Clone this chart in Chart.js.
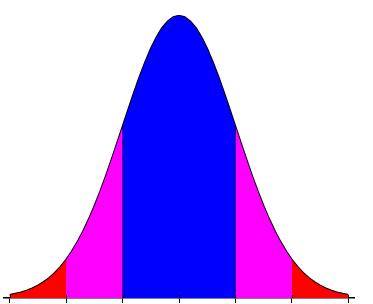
<!DOCTYPE html>
<html>
<head>
<meta charset="utf-8">
<script src="https://cdn.jsdelivr.net/npm/chart.js@4/dist/chart.umd.min.js"></script>
<style>
  html, body { margin: 0; padding: 0; background: #fff; }
  canvas { display: block; }
</style>
</head>
<body>
<canvas id="myChart" width="373" height="304"></canvas>
<script>
// posiciones en desviaciones estandar (eje x)
const positions = [
  -3.0, -2.9, -2.8, -2.7, -2.6, -2.5, -2.4, -2.3, -2.2, -2.1,
  -2.0, -1.9, -1.8, -1.7, -1.6, -1.5, -1.4, -1.3, -1.2, -1.1,
  -1.0, -0.9, -0.8, -0.7, -0.6, -0.5, -0.4, -0.3, -0.2, -0.1,
  0.0, 0.1, 0.2, 0.3, 0.4, 0.5, 0.6, 0.7, 0.8, 0.9,
  1.0, 1.1, 1.2, 1.3, 1.4, 1.5, 1.6, 1.7, 1.8, 1.9,
  2.0, 2.1, 2.2, 2.3, 2.4, 2.5, 2.6, 2.7, 2.8, 2.9,
  3.0
];

// altura de la curva en cada posicion
const heights = [
  0.0044, 0.0060, 0.0079, 0.0104, 0.0136, 0.0175, 0.0224, 0.0283, 0.0355, 0.0440,
  0.0540, 0.0656, 0.0790, 0.0940, 0.1109, 0.1295, 0.1497, 0.1714, 0.1942, 0.2179,
  0.2420, 0.2661, 0.2897, 0.3123, 0.3332, 0.3521, 0.3683, 0.3814, 0.3910, 0.3970,
  0.3989, 0.3970, 0.3910, 0.3814, 0.3683, 0.3521, 0.3332, 0.3123, 0.2897, 0.2661,
  0.2420, 0.2179, 0.1942, 0.1714, 0.1497, 0.1295, 0.1109, 0.0940, 0.0790, 0.0656,
  0.0540, 0.0440, 0.0355, 0.0283, 0.0224, 0.0175, 0.0136, 0.0104, 0.0079, 0.0060,
  0.0044
];

// limites de cada zona y su color
const bandEdges = [-3.0, -2.0, -1.0, 1.0, 2.0, 3.0];
const bandColors = ['#ff0000', '#ff00ff', '#0000ff', '#ff00ff', '#ff0000'];

// marcas del eje x
const tickValues = [-3, -2, -1, 0, 1, 2, 3];

// lineas verticales
const dividers = [-2, -1, 1, 2];

const points = positions.map((x, i) => ({ x: x, y: heights[i] }));

const datasets = [];

bandColors.forEach((color, i) => {
  const lo = bandEdges[i] - 1e-6;
  const hi = bandEdges[i + 1] + 1e-6;
  datasets.push({
    data: points.filter(p => p.x >= lo && p.x <= hi),
    backgroundColor: color,
    borderWidth: 0,
    pointRadius: 0,
    fill: 'origin'
  });
});

dividers.forEach(d => {
  const p = points.find(pt => Math.abs(pt.x - d) < 1e-6);
  datasets.push({
    data: [{ x: d, y: 0 }, { x: d, y: p.y }],
    borderColor: '#000',
    borderWidth: 1,
    pointRadius: 0,
    fill: false
  });
});

datasets.push({
  data: points,
  borderColor: '#000',
  borderWidth: 2,
  pointRadius: 0,
  fill: false
});

// pequeñas marcas por encima del eje
const tickMarks = {
  id: 'tickMarks',
  afterDraw(chart) {
    const ctx = chart.ctx;
    const xs = chart.scales.x;
    const bottom = chart.chartArea.bottom;
    ctx.save();
    ctx.strokeStyle = '#000';
    ctx.lineWidth = 1;
    tickValues.forEach(v => {
      const px = Math.round(xs.getPixelForValue(v)) + 0.5;
      ctx.beginPath();
      ctx.moveTo(px, bottom - 3);
      ctx.lineTo(px, bottom);
      ctx.stroke();
    });
    ctx.restore();
  }
};

const ctx = document.getElementById('myChart').getContext('2d');

new Chart(ctx, {
  type: 'line',
  data: { datasets: datasets },
  plugins: [tickMarks],
  options: {
    responsive: false,
    animation: false,
    devicePixelRatio: 1,
    layout: { padding: { left: 4, right: 19, top: 15, bottom: 1 } },
    plugins: {
      legend: { display: false },
      tooltip: { enabled: false }
    },
    elements: { line: { tension: 0 } },
    scales: {
      x: {
        type: 'linear',
        min: -3.1,
        max: 3.1,
        afterBuildTicks: function(scale) {
          scale.ticks = tickValues.map(v => ({ value: v }));
        },
        ticks: { display: false },
        grid: {
          drawOnChartArea: false,
          drawTicks: true,
          tickLength: 5,
          color: '#000'
        },
        border: { display: true, color: '#000', width: 1.5 }
      },
      y: {
        display: false,
        min: 0,
        max: 0.4
      }
    }
  }
});
</script>
</body>
</html>
